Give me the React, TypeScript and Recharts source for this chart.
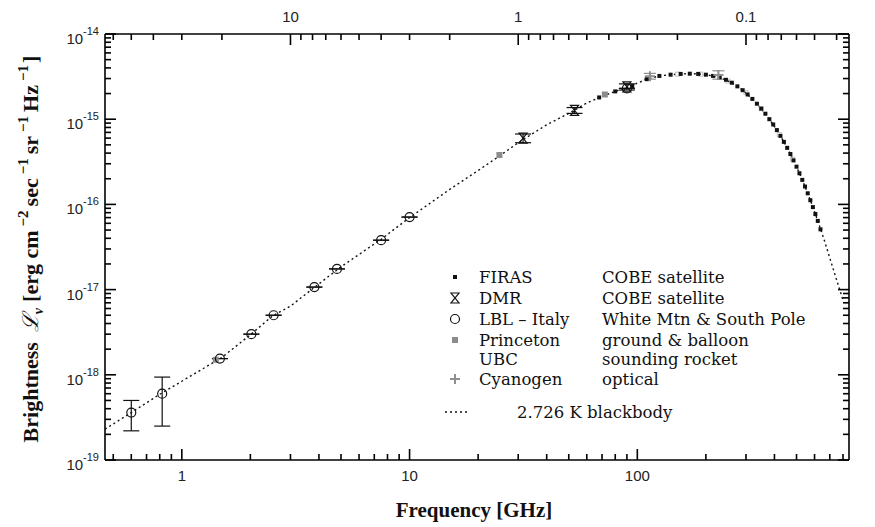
import { ScatterChart, Scatter, XAxis, YAxis, ErrorBar } from 'recharts'

// frequency in GHz, brightness in erg cm^-2 s^-1 sr^-1 Hz^-1
const bbFreq = [0.46, 0.6, 0.8, 1, 1.5, 2, 2.5, 3, 3.8, 5, 7.5, 10, 15, 20, 25, 30, 40, 50, 60, 70, 80, 90, 110, 125, 140, 155, 170, 185, 200, 230, 260, 290, 320, 350, 380, 410, 440, 470, 500, 530, 560, 590, 620, 660, 700, 750, 800]
const bbValue = [2.3e-19, 3.6e-19, 5.9e-19, 8.4e-19, 1.6e-18, 2.95e-18, 4.9e-18, 6.4e-18, 1.05e-17, 1.85e-17, 3.9e-17, 7.0e-17, 1.5e-16, 2.5e-16, 3.75e-16, 5.3e-16, 8.6e-16, 1.17e-15, 1.55e-15, 1.85e-15, 2.12e-15, 2.35e-15, 2.95e-15, 3.22e-15, 3.33e-15, 3.4e-15, 3.42e-15, 3.4e-15, 3.33e-15, 3.1e-15, 2.68e-15, 2.19e-15, 1.73e-15, 1.33e-15, 1.0e-15, 7.45e-16, 5.42e-16, 3.9e-16, 2.77e-16, 1.94e-16, 1.35e-16, 9.3e-17, 6.4e-17, 3.9e-17, 2.35e-17, 1.3e-17, 7.5e-18]

const firasFreq = [68, 80, 95, 110, 125, 140, 155, 170, 185, 200, 215, 230, 245, 260, 275, 290, 305, 320, 335, 350, 365, 380, 395, 410, 425, 440, 455, 470, 485, 500, 515, 530, 545, 560, 575, 590, 605, 620, 637]
const firasValue = [1.8e-15, 2.12e-15, 2.45e-15, 2.95e-15, 3.22e-15, 3.33e-15, 3.4e-15, 3.42e-15, 3.4e-15, 3.33e-15, 3.22e-15, 3.1e-15, 2.9e-15, 2.68e-15, 2.43e-15, 2.19e-15, 1.95e-15, 1.73e-15, 1.52e-15, 1.33e-15, 1.16e-15, 1.0e-15, 8.67e-16, 7.45e-16, 6.37e-16, 5.42e-16, 4.61e-16, 3.9e-16, 3.29e-16, 2.77e-16, 2.32e-16, 1.94e-16, 1.62e-16, 1.35e-16, 1.12e-16, 9.3e-17, 7.7e-17, 6.4e-17, 5.1e-17]

const dmrFreq = [31.5, 53, 90]
const dmrValue = [6.0e-16, 1.27e-15, 2.4e-15]
const dmrLow = [5.3e-16, 1.17e-15, 2.2e-15]
const dmrHigh = [6.7e-16, 1.37e-15, 2.6e-15]

const lblFreq = [0.6, 0.82, 1.47, 2.02, 2.53, 3.82, 4.8, 7.5, 10, 90]
const lblValue = [3.6e-19, 6.0e-19, 1.55e-18, 3.0e-18, 5.0e-18, 1.07e-17, 1.75e-17, 3.8e-17, 7.1e-17, 2.3e-15]
const lblLow = [2.2e-19, 2.5e-19, 1.55e-18, 3.0e-18, 5.0e-18, 1.07e-17, 1.75e-17, 3.8e-17, 7.1e-17, 2.3e-15]
const lblHigh = [5.0e-19, 9.4e-19, 1.55e-18, 3.0e-18, 5.0e-18, 1.07e-17, 1.75e-17, 3.8e-17, 7.1e-17, 2.3e-15]

const princetonFreq = [1.41, 24.8, 72]
const princetonValue = [1.5e-18, 3.8e-16, 1.95e-15]

const ubcFreq = [150, 190, 250, 300, 350, 420, 480]
const ubcValue = [3.38e-15, 3.38e-15, 2.8e-15, 2.05e-15, 1.33e-15, 6.6e-16, 3.4e-16]

const cyanFreq = [113.6, 227]
const cyanValue = [3.2e-15, 3.3e-15]
const cyanLow = [2.95e-15, 2.95e-15]
const cyanHigh = [3.45e-15, 3.7e-15]

const xTicks = [0.5, 0.6, 0.7, 0.8, 0.9, 1, 2, 3, 4, 5, 6, 7, 8, 9, 10, 20, 30, 40, 50, 60, 70, 80, 90, 100, 200, 300, 400, 500, 600, 700, 800]
const xMajor = [1, 10, 100]
const lambdaTicks = [60, 50, 40, 30, 20, 10, 9, 8, 7, 6, 5, 4, 3, 2, 1, 0.9, 0.8, 0.7, 0.6, 0.5, 0.4, 0.3, 0.2, 0.1, 0.09, 0.08, 0.07, 0.06, 0.05, 0.04]
const lambdaMajor = [10, 1, 0.1]
const yDecades = [-19, -18, -17, -16, -15, -14]

const legendRows = [
  { key: 'firas', name: 'FIRAS', desc: 'COBE satellite' },
  { key: 'dmr', name: 'DMR', desc: 'COBE satellite' },
  { key: 'lbl', name: 'LBL \u2013 Italy', desc: 'White Mtn & South Pole' },
  { key: 'princeton', name: 'Princeton', desc: 'ground & balloon' },
  { key: 'ubc', name: 'UBC', desc: 'sounding rocket' },
  { key: 'cyan', name: 'Cyanogen', desc: 'optical' },
]

const pts = (f: number[], v: number[], lo?: number[], hi?: number[]) =>
  f.map((x, i) => ({ f: x, v: v[i], err: lo && hi ? [v[i] - lo[i], hi[i] - v[i]] : undefined }))

const bbData = pts(bbFreq, bbValue)
const firasData = pts(firasFreq, firasValue)
const dmrData = pts(dmrFreq, dmrValue, dmrLow, dmrHigh)
const lblData = pts(lblFreq, lblValue, lblLow, lblHigh)
const princetonData = pts(princetonFreq, princetonValue)
const ubcData = pts(ubcFreq, ubcValue)
const cyanData = pts(cyanFreq, cyanValue, cyanLow, cyanHigh)

const yTicks: number[] = []
yDecades.forEach(e => {
  yTicks.push(10 ** e)
  if (e < -14) for (let m = 2; m <= 9; m++) yTicks.push(m * 10 ** e)
})

const INK = '#111'
const SANS = '"Liberation Sans", Arial, sans-serif'
const SERIF = '"DejaVu Serif", "Liberation Serif", serif'

const near = (a: number, list: number[]) => list.some(b => Math.abs(a / b - 1) < 1e-6)

const BottomTick = ({ x, y, payload }: any) => {
  const major = near(payload.value, xMajor)
  return (
    <g>
      <line x1={x} y1={y} x2={x} y2={y - (major ? 11 : 6)} stroke="#000" strokeWidth={1.6} />
      {major && <text x={x} y={y + 21} textAnchor="middle" fontFamily={SANS} fontSize={15} fill="#222">{payload.value}</text>}
    </g>
  )
}

const TopTick = ({ x, y, payload }: any) => {
  const lam = 30 / payload.value
  const major = near(lam, lambdaMajor)
  return (
    <g>
      <line x1={x} y1={y} x2={x} y2={y + (major ? 11 : 6)} stroke="#000" strokeWidth={1.6} />
      {major && <text x={x} y={y - 12} textAnchor="middle" fontFamily={SANS} fontSize={15} fill="#222">{Math.round(lam * 10) / 10}</text>}
    </g>
  )
}

const LeftTick = ({ x, y, payload }: any) => {
  const e = Math.round(Math.log10(payload.value))
  const major = near(payload.value, [10 ** e])
  return (
    <g>
      <line x1={x} y1={y} x2={x + (major ? 11 : 6)} y2={y} stroke="#000" strokeWidth={1.6} />
      {major && (
        <text x={x - 6} y={y + 10} textAnchor="end" fontFamily={SANS} fontSize={15} fill="#222">
          10<tspan dy={-9} fontSize={11}>{e}</tspan>
        </text>
      )}
    </g>
  )
}

const RightTick = ({ x, y, payload }: any) => {
  const e = Math.round(Math.log10(payload.value))
  const major = near(payload.value, [10 ** e])
  return <line x1={x} y1={y} x2={x - (major ? 11 : 6)} y2={y} stroke="#000" strokeWidth={1.6} />
}

const FirasMark = ({ cx, cy }: any) => <rect x={cx - 2} y={cy - 2} width={4} height={4} fill={INK} />
const DmrMark = ({ cx, cy }: any) => (
  <path d={`M${cx - 4},${cy - 5}L${cx + 4},${cy - 5}L${cx - 4},${cy + 5}L${cx + 4},${cy + 5}Z`} fill="none" stroke={INK} strokeWidth={1.2} />
)
const LblMark = ({ cx, cy }: any) => <circle cx={cx} cy={cy} r={4.5} fill="none" stroke={INK} strokeWidth={1.2} />
const PrincetonMark = ({ cx, cy }: any) => <rect x={cx - 3} y={cy - 3} width={6} height={6} fill="#8c8c8c" />
const UbcMark = ({ cx, cy }: any) => <rect x={cx - 2} y={cy - 2} width={4} height={4} fill="none" stroke="#c4c4c4" strokeWidth={1} />
const CyanMark = ({ cx, cy }: any) => (
  <path d={`M${cx - 5},${cy}H${cx + 5}M${cx},${cy - 5}V${cy + 5}`} stroke="#8f8f8f" strokeWidth={2} />
)
const NoMark = () => <g />

const legendMarks: Record<string, any> = {
  firas: FirasMark, dmr: DmrMark, lbl: LblMark, princeton: PrincetonMark, ubc: () => <g />, cyan: CyanMark,
}

export default function App() {
  const axisLine = { stroke: '#000', strokeWidth: 1.6 }
  const sup = (s: string) => <tspan dx={4} dy={-10} fontSize={15}>{s}</tspan>
  return (
    <div style={{ position: 'relative', width: 875, height: 527, background: '#fff' }}>
      <style>{'body{margin:0}'}</style>
      <ScatterChart width={875} height={527} margin={{ top: 0, right: 0, bottom: 0, left: 0 }}>
        <XAxis xAxisId="b" dataKey="f" type="number" scale="log" domain={[0.46, 850]} allowDataOverflow
          ticks={xTicks} interval={0} tick={<BottomTick />} tickSize={0} tickMargin={0} height={67} axisLine={axisLine} />
        <XAxis xAxisId="t" dataKey="f" orientation="top" type="number" scale="log" domain={[0.46, 850]} allowDataOverflow
          ticks={lambdaTicks.map(l => 30 / l)} interval={0} tick={<TopTick />} tickSize={0} tickMargin={0} height={34} axisLine={axisLine} />
        <YAxis yAxisId="l" dataKey="v" type="number" scale="log" domain={[1e-19, 1e-14]} allowDataOverflow
          ticks={yTicks} interval={0} tick={<LeftTick />} tickSize={0} tickMargin={0} width={105} axisLine={axisLine} />
        <YAxis yAxisId="r" dataKey="v" orientation="right" type="number" scale="log" domain={[1e-19, 1e-14]} allowDataOverflow
          ticks={yTicks} interval={0} tick={<RightTick />} tickSize={0} tickMargin={0} width={26} axisLine={axisLine} />

        {/* carries the mirrored top / right axes */}
        <Scatter data={bbData} xAxisId="t" yAxisId="r" shape={NoMark} isAnimationActive={false} />

        <Scatter name="2.726 K blackbody" data={bbData} xAxisId="b" yAxisId="l" shape={NoMark} isAnimationActive={false}
          line={{ stroke: INK, strokeWidth: 1.4, strokeDasharray: '2 3' }} lineType="joint" />
        <Scatter name="UBC" data={ubcData} xAxisId="b" yAxisId="l" shape={UbcMark} isAnimationActive={false} />
        <Scatter name="FIRAS" data={firasData} xAxisId="b" yAxisId="l" shape={FirasMark} isAnimationActive={false} />
        <Scatter name="Princeton" data={princetonData} xAxisId="b" yAxisId="l" shape={PrincetonMark} isAnimationActive={false} />
        <Scatter name="DMR" data={dmrData} xAxisId="b" yAxisId="l" shape={DmrMark} isAnimationActive={false}>
          <ErrorBar dataKey="err" direction="y" width={8} stroke={INK} strokeWidth={1.2} isAnimationActive={false} />
        </Scatter>
        <Scatter name="LBL - Italy" data={lblData} xAxisId="b" yAxisId="l" shape={LblMark} isAnimationActive={false}>
          <ErrorBar dataKey="err" direction="y" width={8} stroke={INK} strokeWidth={1.2} isAnimationActive={false} />
        </Scatter>
        <Scatter name="Cyanogen" data={cyanData} xAxisId="b" yAxisId="l" shape={CyanMark} isAnimationActive={false}>
          <ErrorBar dataKey="err" direction="y" width={6} stroke="#8f8f8f" strokeWidth={1.2} isAnimationActive={false} />
        </Scatter>
      </ScatterChart>

      <svg width={875} height={527} style={{ position: 'absolute', left: 0, top: 0, pointerEvents: 'none' }}>
        <text transform="translate(38,249) rotate(-90)" textAnchor="middle" fontFamily='"Liberation Serif", serif' fontWeight="bold" fontSize={22} fill={INK}>
          Brightness<tspan dx={10} fontStyle="italic" fontWeight="normal" fontFamily='"DejaVu Serif", serif'>{'\u2112'}</tspan>
          <tspan dy={5} fontSize={14} fontStyle="italic">{'\u03bd'}</tspan>
          <tspan dx={6} dy={-5}>[erg cm</tspan>{sup('\u22122')}
          <tspan dx={4} dy={10}>sec</tspan>{sup('\u22121')}
          <tspan dx={4} dy={10}>sr</tspan>{sup('\u22121')}
          <tspan dx={4} dy={10}>Hz</tspan>{sup('\u22121')}
          <tspan dx={2} dy={10}>]</tspan>
        </text>
        <text x={474} y={517} textAnchor="middle" fontFamily='"Liberation Serif", serif' fontWeight="bold" fontSize={21} fill={INK}>
          Frequency [GHz]
        </text>

        {legendRows.map((r, i) => {
          const cy = [277, 298, 319, 340, 359, 379][i]
          const Mark = legendMarks[r.key]
          return (
            <g key={r.key}>
              <Mark cx={455} cy={cy} />
              <text x={479} y={cy + 6} fontFamily={SERIF} fontSize={16.5} fill={INK}>{r.name}</text>
              <text x={602} y={cy + 6} fontFamily={SERIF} fontSize={16.5} fill={INK}>{r.desc}</text>
            </g>
          )
        })}
        <line x1={445} y1={412} x2={470} y2={412} stroke={INK} strokeWidth={1.3} strokeDasharray="2 3" />
        <text x={517} y={418} fontFamily={SERIF} fontSize={16.5} fill={INK}>2.726 K blackbody</text>
      </svg>
    </div>
  )
}
